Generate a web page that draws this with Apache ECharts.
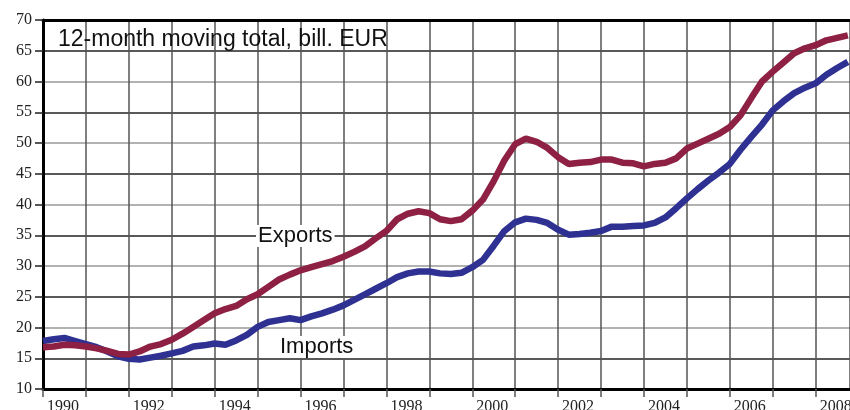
<!DOCTYPE html>
<html>
<head>
<meta charset="utf-8">
<script src="https://cdn.jsdelivr.net/npm/echarts@6/dist/echarts.min.js"></script>
<style>
html,body{margin:0;padding:0;background:#fff;}
#chart{width:850px;height:410px;}
</style>
</head>
<body>
<div id="chart"></div>
<script>
// quarterly points
const years=[1990,1990.25,1990.5,1990.75,1991,1991.25,1991.5,1991.75,1992,1992.25,1992.5,1992.75,
1993,1993.25,1993.5,1993.75,1994,1994.25,1994.5,1994.75,1995,1995.25,1995.5,1995.75,
1996,1996.25,1996.5,1996.75,1997,1997.25,1997.5,1997.75,1998,1998.25,1998.5,1998.75,
1999,1999.25,1999.5,1999.75,2000,2000.25,2000.5,2000.75,2001,2001.25,2001.5,2001.75,
2002,2002.25,2002.5,2002.75,2003,2003.25,2003.5,2003.75,2004,2004.25,2004.5,2004.75,
2005,2005.25,2005.5,2005.75,2006,2006.25,2006.5,2006.75,2007,2007.25,2007.5,2007.75,
2008,2008.25,2008.5,2008.75];
const exportsData=[16.8,16.9,17.2,17.1,16.9,16.6,16.2,15.7,15.6,16.1,16.9,17.3,
18.0,19.0,20.1,21.2,22.3,23.0,23.5,24.6,25.4,26.6,27.8,28.6,
29.3,29.8,30.3,30.8,31.5,32.3,33.2,34.5,35.7,37.6,38.5,38.9,
38.6,37.6,37.3,37.6,39.0,40.8,43.8,47.2,49.8,50.7,50.2,49.2,
47.7,46.6,46.8,46.9,47.3,47.3,46.8,46.7,46.2,46.6,46.8,47.5,
49.1,49.9,50.7,51.5,52.6,54.5,57.3,60.0,61.6,63.1,64.6,65.4,
65.9,66.7,67.1,67.5];
const importsData=[17.8,18.1,18.3,17.8,17.3,16.8,16.1,15.3,14.9,14.8,15.1,15.4,
15.8,16.2,16.9,17.1,17.4,17.2,17.9,18.8,20.1,20.9,21.2,21.5,
21.2,21.8,22.3,22.9,23.6,24.5,25.4,26.3,27.2,28.2,28.8,29.1,
29.1,28.8,28.7,28.9,29.8,31.0,33.3,35.7,37.1,37.7,37.5,37.0,
35.9,35.1,35.2,35.4,35.7,36.4,36.4,36.5,36.6,37.0,37.9,39.4,
41.0,42.5,43.9,45.2,46.6,48.9,51.0,53.0,55.3,56.8,58.1,59.0,
59.7,61.1,62.2,63.2];

const serif='"Liberation Serif","DejaVu Serif",serif';
const sans='"Liberation Sans",Arial,sans-serif';

var myChart=echarts.init(document.getElementById('chart'));
var option={
    animation:false,
    backgroundColor:'#fff',
    grid:{left:43,top:20,right:0,bottom:21,containLabel:false,outerBoundsMode:'none'},
    xAxis:[{
        type:'value',
        min:1990,
        max:2008.8,
        interval:1,
        axisLine:{lineStyle:{color:'#000',width:3}},
        axisTick:{show:true,length:8,lineStyle:{color:'#555',width:1.5}},
        axisLabel:{
            fontFamily:serif,
            fontSize:16,
            color:'#222',
            align:'left',
            padding:[0,0,0,4],
            margin:10,
            showMaxLabel:false,
            formatter:function(v){return v%2===0?String(v):'';}
        },
        splitLine:{show:true,lineStyle:{color:'#555',width:1.5}}
    },{
        type:'value',
        position:'top',
        min:1990,
        max:2008.8,
        interval:1,
        axisLine:{show:true,lineStyle:{color:'#000',width:3}},
        axisTick:{show:false},
        axisLabel:{show:false},
        splitLine:{show:false}
    }],
    yAxis:{
        type:'value',
        min:10,
        max:70,
        interval:5,
        axisLine:{show:true,lineStyle:{color:'#000',width:3}},
        axisTick:{show:true,length:8,lineStyle:{color:'#222',width:1.5}},
        axisLabel:{fontFamily:serif,fontSize:16,color:'#222',margin:11},
        splitLine:{show:true,lineStyle:{color:['#999','#222'],width:1.5}}
    },
    graphic:[
        {type:'text',left:58,top:28,z:10,
         style:{text:'12-month moving total, bill. EUR',font:'23px '+sans,fill:'#111'}},
        {type:'text',left:256,top:225,z:10,
         style:{text:'Exports',font:'22px '+sans,fill:'#111',backgroundColor:'#fff',padding:[0,2]}},
        {type:'text',left:278,top:336,z:10,
         style:{text:'Imports',font:'22px '+sans,fill:'#111',backgroundColor:'#fff',padding:[0,2]}}
    ],
    series:[{
        name:'Imports',
        type:'line',
        showSymbol:false,
        data:years.map(function(y,i){return [y,importsData[i]];}),
        lineStyle:{color:'#2e3192',width:6.5},
        itemStyle:{color:'#2e3192'}
    },{
        name:'Exports',
        type:'line',
        showSymbol:false,
        data:years.map(function(y,i){return [y,exportsData[i]];}),
        lineStyle:{color:'#8e2043',width:6.5},
        itemStyle:{color:'#8e2043'}
    }]
};
myChart.setOption(option);
</script>
</body>
</html>
